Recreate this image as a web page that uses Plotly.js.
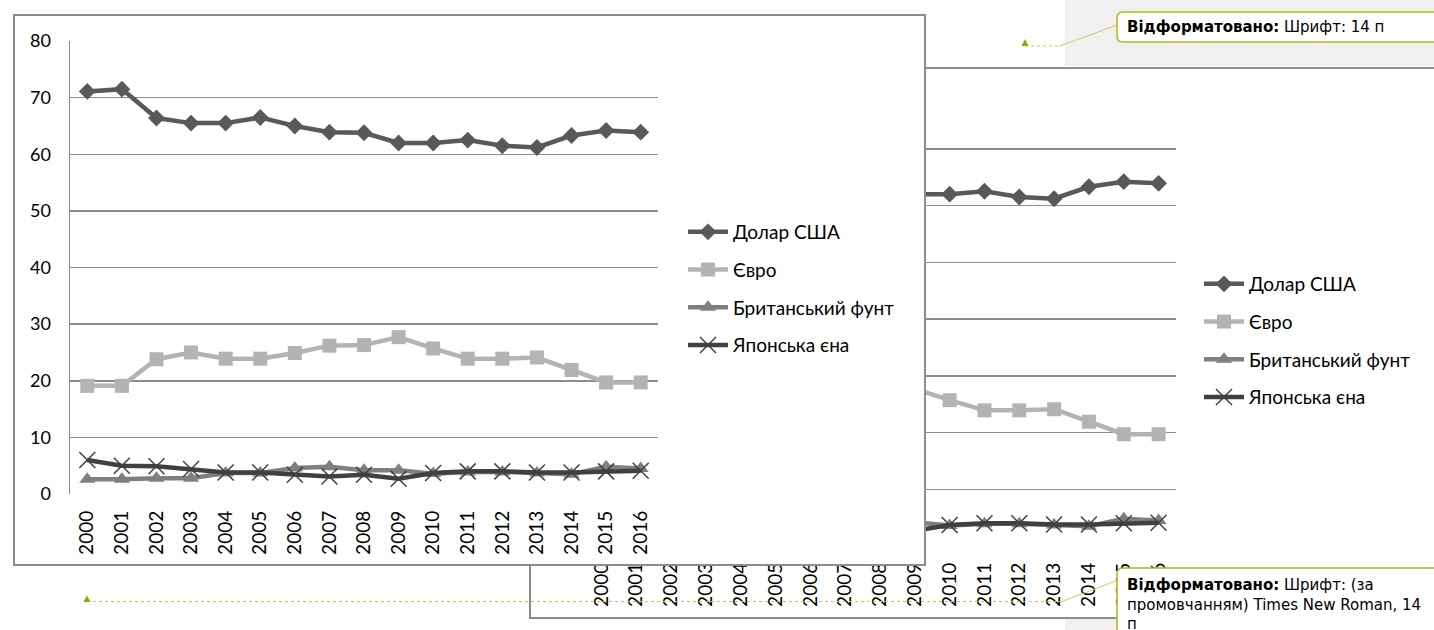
<!DOCTYPE html>
<html>
<head>
<meta charset="utf-8">
<script src="https://cdn.plot.ly/plotly-3.0.1.min.js"></script>
<style>
  html, body { margin:0; padding:0; background:#ffffff; width:1434px; height:630px; overflow:hidden; }
  #back { position:absolute; left:529px; top:67px; width:1000px; height:548px; border:2px solid #8c8c8c; border-right:none; background:#fff; }
  #front { position:absolute; left:13px; top:14px; width:909px; height:548px; border:2px solid #8c8c8c; background:#fff; }
  #over { position:absolute; left:0; top:0; width:1434px; height:630px; pointer-events:none; }
</style>
</head>
<body>
<div id="back"></div>
<div id="front"></div>
<div id="over"></div>
<script>
// ---- data ----
const years = ['2000','2001','2002','2003','2004','2005','2006','2007','2008','2009','2010','2011','2012','2013','2014','2015','2016'];
const usd = [71.1, 71.5, 66.4, 65.5, 65.5, 66.5, 65.0, 63.9, 63.8, 62.0, 62.0, 62.5, 61.5, 61.2, 63.3, 64.2, 63.9];
const eur = [19.1, 19.1, 23.8, 25.0, 23.9, 23.9, 24.9, 26.2, 26.3, 27.7, 25.7, 23.9, 23.9, 24.1, 21.9, 19.7, 19.7];
const gbp = [2.6, 2.6, 2.8, 2.8, 3.7, 3.7, 4.6, 4.8, 4.2, 4.2, 3.6, 3.9, 3.9, 3.7, 3.5, 4.8, 4.5];
const jpy = [6.0, 5.0, 4.9, 4.4, 3.8, 3.8, 3.4, 3.1, 3.4, 2.7, 3.7, 4.0, 4.0, 3.8, 3.8, 4.0, 4.1];
const seriesNames = ['Долар США', 'Євро', 'Британський фунт', 'Японська єна'];
const yTicks = [0, 10, 20, 30, 40, 50, 60, 70, 80];
const commentLabel = 'Відформатовано:';
const commentTop = 'Шрифт: 14 п';
const commentBottom = ['Шрифт: (за', 'промовчанням) Times New Roman, 14', 'п'];

const FONT = "Lato, 'Open Sans', sans-serif";
const GRID = '#8c8c8c';

function traces() {
  const vals = [usd, eur, gbp, jpy];
  const cols = ['#595959', '#b3b3b3', '#7f7f7f', '#404040'];
  const syms = ['diamond', 'square', 'triangle-up', 'x-thin-open'];
  const sizes = [13, 14, 14, 16];
  return vals.map((v, i) => ({
    type: 'scatter', mode: 'lines+markers',
    x: years, y: v, name: seriesNames[i], legendgroup: 'g' + i,
    line: { color: cols[i], width: 4.5 },
    marker: { symbol: syms[i], size: sizes[i], color: cols[i],
              line: { color: cols[i], width: i === 3 ? 1.5 : 0 } },
    cliponaxis: false
  }));
}

function layoutFor(w, h, m, ly) {
  return {
    width: w, height: h,
    margin: m,
    paper_bgcolor: '#ffffff', plot_bgcolor: '#ffffff',
    showlegend: true,
    legend: {
      xref: 'container', yref: 'container',
      x: 668 / w, y: 1 - ly / h, xanchor: 'left', yanchor: 'top',
      font: { family: FONT, size: 19, color: '#000' },
      traceorder: 'grouped', tracegroupgap: 10,
      bgcolor: 'rgba(0,0,0,0)', itemwidth: 40
    },
    xaxis: {
      type: 'category', range: [-0.5, years.length - 0.5], tickangle: -90, showgrid: false,
      showline: false, zeroline: false, ticks: '',
      ticklabelstandoff: 12,
      tickfont: { family: FONT, size: 19, color: '#000' },
      fixedrange: true
    },
    yaxis: {
      range: [0, 80], tickvals: yTicks, showgrid: true,
      gridcolor: GRID, gridwidth: 1.5, zeroline: false,
      showline: true, linecolor: GRID, linewidth: 1.5,
      ticks: '', ticklabelstandoff: 14,
      tickfont: { family: FONT, size: 18, color: '#000' },
      fixedrange: true
    }
  };
}

const cfg = { staticPlot: true, displayModeBar: false };

Plotly.newPlot('back', traces(), layoutFor(1000, 548, { l: 53, r: 355, t: 23, b: 71 }, 196), cfg);
Plotly.newPlot('front', traces(), layoutFor(909, 548, { l: 55, r: 266, t: 25, b: 70 }, 197), cfg);

// ---- comment overlay ----
function roundRect(x0, y0, x1, y1, r) {
  return `M${x0 + r},${y0} L${x1 - r},${y0} Q${x1},${y0} ${x1},${y0 + r} L${x1},${y1 - r} Q${x1},${y1} ${x1 - r},${y1} ` +
         `L${x0 + r},${y1} Q${x0},${y1} ${x0},${y1 - r} L${x0},${y0 + r} Q${x0},${y0} ${x0 + r},${y0} Z`;
}
const OLIVE = '#b4b41e';
const overLayout = {
  width: 1434, height: 630, margin: { l: 0, r: 0, t: 0, b: 0 },
  paper_bgcolor: 'rgba(0,0,0,0)', plot_bgcolor: 'rgba(0,0,0,0)',
  showlegend: false,
  xaxis: { range: [0, 1434], visible: false, fixedrange: true },
  yaxis: { range: [630, 0], visible: false, fixedrange: true },
  shapes: [
    { type: 'rect', x0: 1065, x1: 1434, y0: 0, y1: 66, fillcolor: '#f0f0f0', line: { width: 0 }, layer: 'below' },
    { type: 'rect', x0: 1065, x1: 1434, y0: 619, y1: 630, fillcolor: '#f0f0f0', line: { width: 0 }, layer: 'below' },
    // top comment
    { type: 'line', x0: 1025, x1: 1060, y0: 46, y1: 46, line: { color: '#c8c850', width: 1, dash: 'dot' } },
    { type: 'line', x0: 1060, x1: 1117, y0: 46, y1: 25, line: { color: '#cccc66', width: 1 } },
    { type: 'path', path: 'M1021.5,46 L1025,39 L1028.5,46 Z', fillcolor: '#a0a000', line: { width: 0 } },
    { type: 'path', path: roundRect(1117, 12, 1450, 42, 6), fillcolor: '#ffffff', line: { color: OLIVE, width: 1.5 } },
    // bottom comment
    { type: 'line', x0: 87, x1: 1062, y0: 601.5, y1: 601.5, line: { color: '#c8c850', width: 1.2, dash: 'dot' } },
    { type: 'line', x0: 1062, x1: 1118, y0: 601.5, y1: 580, line: { color: '#cccc66', width: 1 } },
    { type: 'path', path: 'M83.5,602 L87,595.5 L90.5,602 Z', fillcolor: '#a0a000', line: { width: 0 } },
    { type: 'path', path: roundRect(1117, 568, 1450, 660, 6), fillcolor: '#ffffff', line: { color: OLIVE, width: 1.5 } }
  ],
  annotations: [
    { x: 1125, y: 27, xref: 'x', yref: 'y', xanchor: 'left', yanchor: 'middle', showarrow: false, align: 'left',
      text: `<b>${commentLabel}</b> ${commentTop}`, font: { family: 'DejaVu Sans', size: 15, color: '#000' } },
    { x: 1125, y: 574, xref: 'x', yref: 'y', xanchor: 'left', yanchor: 'top', showarrow: false, align: 'left',
      text: `<b>${commentLabel}</b> ${commentBottom.join('<br>')}`, font: { family: 'DejaVu Sans', size: 15, color: '#000' } }
  ]
};
Plotly.newPlot('over', [], overLayout, cfg);
</script>
</body>
</html>
